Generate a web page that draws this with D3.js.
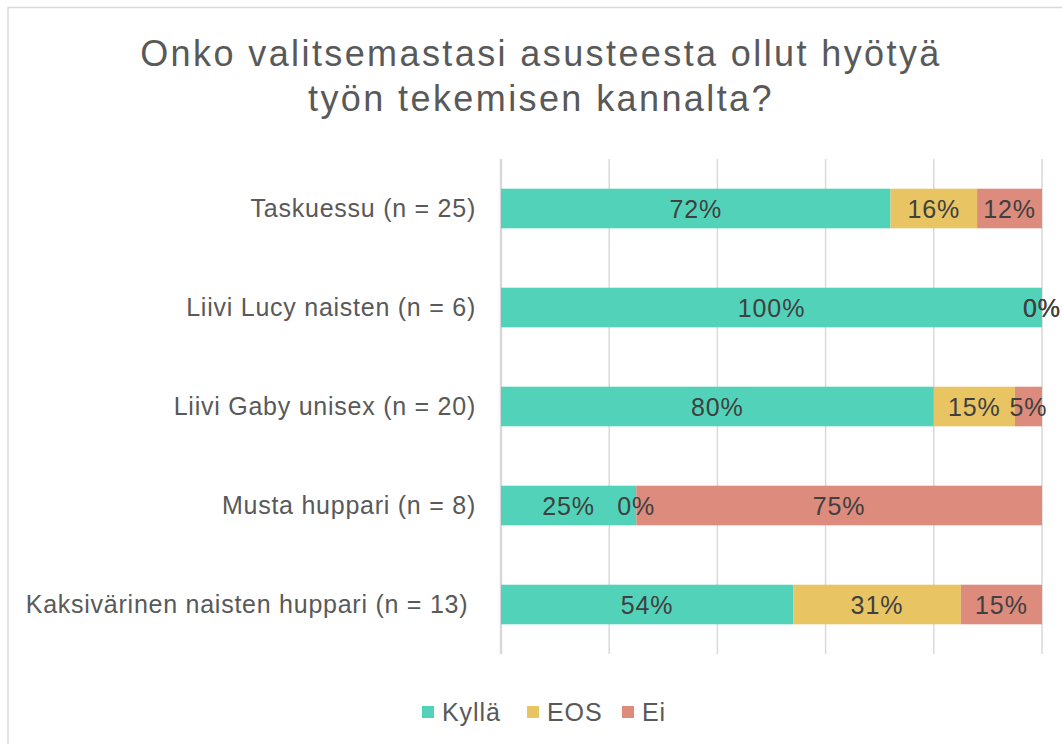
<!DOCTYPE html>
<html>
<head>
<meta charset="utf-8">
<script src="https://cdn.jsdelivr.net/npm/d3@7"></script>
<style>
  body { margin: 0; background: #fff; }
  svg text { font-family: "Liberation Sans", Arial, sans-serif; }
</style>
</head>
<body>
<svg id="chart" width="1062" height="744"></svg>
<script>
const categories = [
  "Taskuessu (n = 25)",
  "Liivi Lucy naisten (n = 6)",
  "Liivi Gaby unisex (n = 20)",
  "Musta huppari (n = 8)",
  "Kaksivärinen naisten huppari (n = 13) "
];
const series = ["Kyllä", "EOS", "Ei"];
const kylla = [72, 100, 80, 25, 54];
const eos = [16, 0, 15, 0, 31];
const ei = [12, 0, 5, 75, 15];
const ticks = [0, 20, 40, 60, 80, 100];
const titleLines = ["Onko valitsemastasi asusteesta ollut hyötyä", "työn tekemisen kannalta?"];

const colors = { "Kyllä": "#52d3b9", "EOS": "#e8c562", "Ei": "#dc8b7d" };

const rows = categories.map((c, i) => ({ cat: c, "Kyllä": kylla[i], "EOS": eos[i], "Ei": ei[i] }));

const svg = d3.select("#chart");
const margin = { top: 159, right: 20, bottom: 90, left: 501 };
const plot_w = 1042 - margin.left;
const plot_h = 654 - margin.top;

// outer frame (only top/left visible in the crop)
svg.append("path")
  .attr("d", "M8,744 V7.5 H1062")
  .attr("fill", "none")
  .attr("stroke", "#d9d9d9")
  .attr("stroke-width", 1.5);

svg.append("text")
  .attr("x", 541)
  .attr("y", 66)
  .attr("text-anchor", "middle")
  .attr("fill", "#595959")
  .style("font-size", "36px")
  .style("letter-spacing", "2.4px")
  .selectAll("tspan")
  .data(titleLines)
  .join("tspan")
  .attr("x", 541)
  .attr("dy", (d, i) => i === 0 ? 0 : 45)
  .text(d => d);

const g = svg.append("g").attr("transform", `translate(${margin.left},${margin.top})`);

const x = d3.scaleLinear().domain([0, 100]).range([0, plot_w]);
const y = d3.scaleBand().domain(categories).range([0, plot_h]).paddingInner(0.6).paddingOuter(0.3);

g.selectAll(".grid")
  .data(ticks)
  .join("line")
  .attr("class", "grid")
  .attr("x1", d => x(d))
  .attr("x2", d => x(d))
  .attr("y1", 0)
  .attr("y2", plot_h)
  .attr("stroke", "#d9d9d9")
  .attr("stroke-width", d => d === 0 ? 2.5 : 1.5);

const stacked = d3.stack().keys(series)(rows);

const layer = g.selectAll(".layer")
  .data(stacked)
  .join("g")
  .attr("class", "layer")
  .attr("fill", d => colors[d.key]);

layer.selectAll("rect")
  .data(d => d)
  .join("rect")
  .attr("x", d => x(d[0]))
  .attr("width", d => x(d[1]) - x(d[0]))
  .attr("y", d => y(d.data.cat))
  .attr("height", y.bandwidth());

g.selectAll(".labels")
  .data(stacked)
  .join("g")
  .attr("class", "labels")
  .selectAll("text")
  .data(d => d.map(v => ({ v, key: d.key })))
  .join("text")
  .attr("x", d => x((d.v[0] + d.v[1]) / 2))
  .attr("y", d => y(d.v.data.cat) + y.bandwidth() / 2)
  .attr("dy", "0.36em")
  .attr("text-anchor", "middle")
  .attr("fill", "#404040")
  .style("font-size", "25px")
  .style("letter-spacing", "0.9px")
  .text(d => (d.v[1] - d.v[0]) + "%");

const yAxis = g.append("g")
  .call(d3.axisLeft(y).tickSize(0).tickPadding(25));
yAxis.select(".domain").remove();
yAxis.selectAll("text")
  .attr("fill", "#595959")
  .style("font-size", "25px")
  .style("letter-spacing", "0.75px")
  .style("white-space", "pre");

// legend
const legendX = [422, 527, 622];
const legend = svg.append("g")
  .selectAll("g")
  .data(series)
  .join("g")
  .attr("transform", (d, i) => `translate(${legendX[i]},712)`);
legend.append("rect")
  .attr("x", 0).attr("y", -6)
  .attr("width", 12).attr("height", 12)
  .attr("fill", d => colors[d]);
legend.append("text")
  .attr("x", 20)
  .attr("dy", "0.36em")
  .attr("fill", "#595959")
  .style("font-size", "25px")
  .style("letter-spacing", "0.9px")
  .text(d => d);
</script>
</body>
</html>
